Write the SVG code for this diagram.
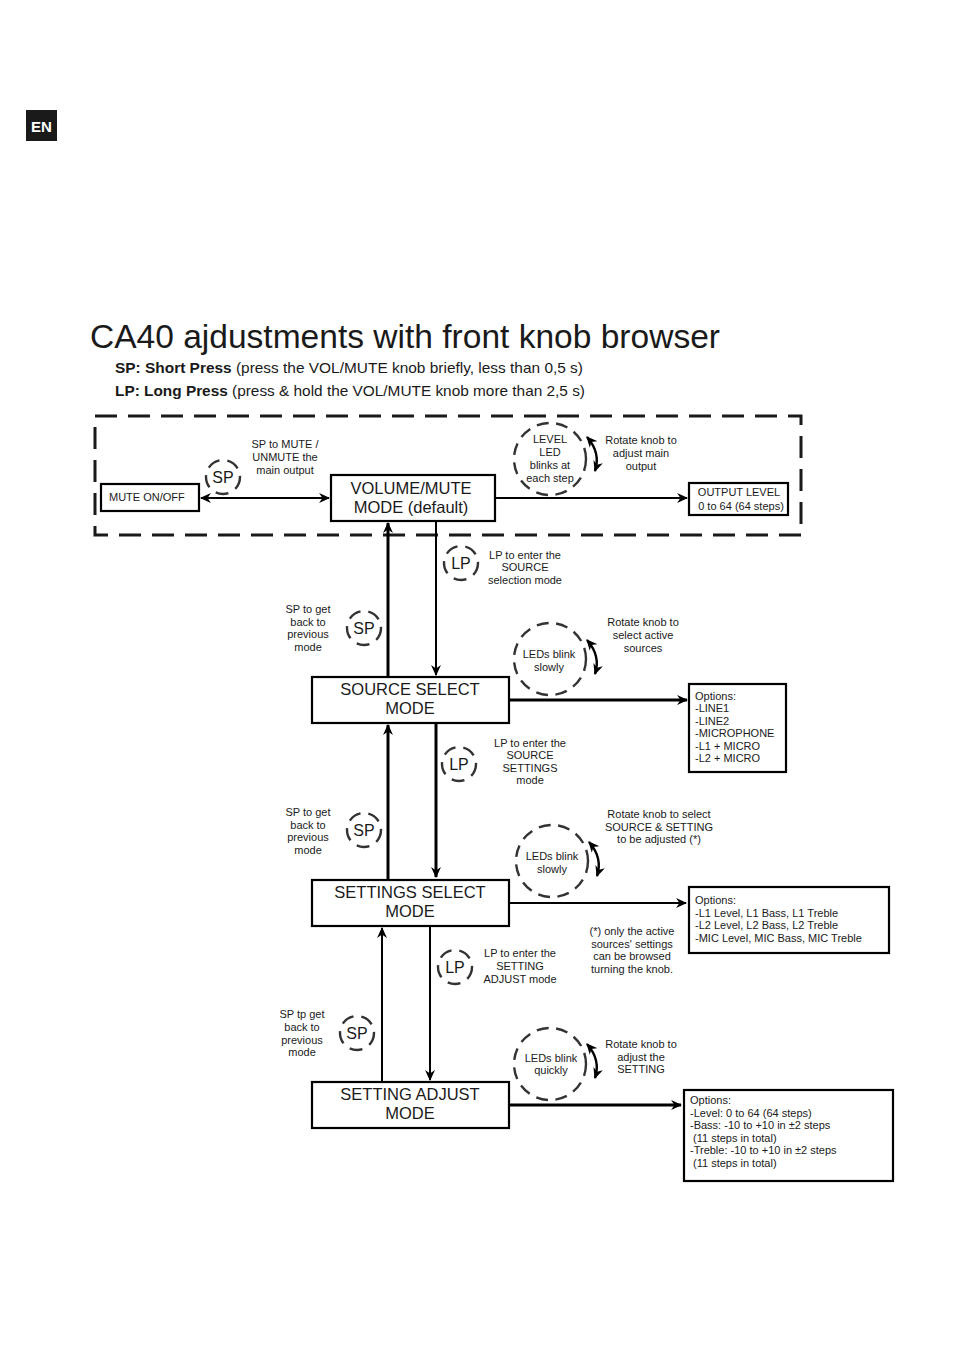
<svg xmlns="http://www.w3.org/2000/svg" width="954" height="1351" viewBox="0 0 954 1351">
<defs>
<marker id="ah" viewBox="0 0 10 10" refX="9" refY="5" markerWidth="11" markerHeight="11" markerUnits="userSpaceOnUse" orient="auto-start-reverse">
<path d="M0,0.5 L10,5 L0,9.5 L3,5 z" fill="#000"/>
</marker>
<style>
text{font-family:"Liberation Sans",Arial,sans-serif;fill:#1a1a1a}
.s{font-size:11px;text-anchor:middle}
.o{font-size:11px}
.m{font-size:16.5px;text-anchor:middle}
.box{fill:#fff;stroke:#000;stroke-width:2.2}
.dc{fill:none;stroke:#333;stroke-width:2.4;stroke-dasharray:13 8}
.dcl{fill:none;stroke:#333;stroke-width:2.4;stroke-dasharray:12 7.5}
.btn{font-size:16px;text-anchor:middle}
.ln{fill:none;stroke:#000;stroke-width:2}
.lt{fill:none;stroke:#000;stroke-width:3}
.rot{fill:none;stroke:#000;stroke-width:2.4}
</style>
</defs>
<rect width="954" height="1351" fill="#fff"/>

<g id="badge">
<rect x="26" y="110" width="31" height="31" fill="#1a1a1a"/>
<text x="41.5" y="132" style="font-size:15px;font-weight:bold;text-anchor:middle;fill:#fff">EN</text>
</g>

<g id="title">
<text x="90" y="348" style="font-size:33px" textLength="630" lengthAdjust="spacingAndGlyphs">CA40 ajdustments with front knob browser</text>
<text x="115" y="373" style="font-size:15px" textLength="468" lengthAdjust="spacingAndGlyphs"><tspan font-weight="bold">SP: Short Press</tspan> (press the VOL/MUTE knob briefly, less than 0,5 s)</text>
<text x="115" y="396" style="font-size:15px" textLength="470" lengthAdjust="spacingAndGlyphs"><tspan font-weight="bold">LP: Long Press</tspan> (press &amp; hold the VOL/MUTE knob more than 2,5 s)</text>
</g>

<g id="default-zone">
<rect x="95" y="416" width="706" height="119" fill="none" stroke="#1a1a1a" stroke-width="3" stroke-dasharray="22 11"/>
</g>

<g id="connectors">
<line class="ln" x1="201" y1="498" x2="329" y2="498" marker-start="url(#ah)" marker-end="url(#ah)"/>
<line class="ln" x1="496" y1="498" x2="687" y2="498" marker-end="url(#ah)"/>
<line class="lt" x1="388" y1="677" x2="388" y2="523" marker-end="url(#ah)"/>
<line class="ln" x1="436" y1="521" x2="436" y2="675" marker-end="url(#ah)"/>
<line class="lt" x1="510" y1="700" x2="687" y2="700" marker-end="url(#ah)"/>
<line class="lt" x1="388" y1="879" x2="388" y2="725" marker-end="url(#ah)"/>
<line class="lt" x1="436" y1="723" x2="436" y2="877" marker-end="url(#ah)"/>
<line class="ln" x1="510" y1="903" x2="686" y2="903" marker-end="url(#ah)"/>
<line class="ln" x1="382" y1="1082" x2="382" y2="928" marker-end="url(#ah)"/>
<line class="ln" x1="430" y1="926" x2="430" y2="1080" marker-end="url(#ah)"/>
<line class="lt" x1="510" y1="1105" x2="681" y2="1105" marker-end="url(#ah)"/>
<path class="rot" d="M587,437 Q601,453 595,471" marker-start="url(#ah)" marker-end="url(#ah)"/>
<path class="rot" d="M587,640 Q601,656 595,674" marker-start="url(#ah)" marker-end="url(#ah)"/>
<path class="rot" d="M589,842 Q603,858 597,876" marker-start="url(#ah)" marker-end="url(#ah)"/>
<path class="rot" d="M587,1044 Q601,1060 595,1078" marker-start="url(#ah)" marker-end="url(#ah)"/>
</g>

<g id="mute">
<rect class="box" x="101" y="484" width="98" height="27"/>
<text class="o" x="109" y="501">MUTE ON/OFF</text>
</g>

<g id="volume">
<rect class="box" x="331" y="475" width="164" height="46"/>
<text class="m" x="411" y="494">VOLUME/MUTE</text>
<text class="m" x="411" y="513">MODE (default)</text>
</g>

<g id="output-level">
<rect class="box" x="689" y="483" width="99" height="32"/>
<text class="s" x="739" y="496">OUTPUT LEVEL</text>
<text class="s" x="741" y="510">0 to 64 (64 steps)</text>
</g>

<g id="sp-mute">
<circle class="dc" cx="223" cy="477" r="17"/>
<text class="btn" x="223" y="483">SP</text>
<text class="s" x="285" y="448">SP to MUTE /</text>
<text class="s" x="285" y="461">UNMUTE the</text>
<text class="s" x="285" y="474">main output</text>
</g>

<g id="level-led">
<circle class="dcl" cx="550" cy="459" r="36"/>
<text class="s" x="550" y="443">LEVEL</text>
<text class="s" x="550" y="456">LED</text>
<text class="s" x="550" y="469">blinks at</text>
<text class="s" x="550" y="482">each step</text>
<text class="s" x="641" y="444">Rotate knob to</text>
<text class="s" x="641" y="457">adjust main</text>
<text class="s" x="641" y="470">output</text>
</g>

<g id="lp-source">
<circle class="dc" cx="461" cy="563" r="17"/>
<text class="btn" x="461" y="569">LP</text>
<text class="s" x="525" y="559">LP to enter the</text>
<text class="s" x="525" y="571">SOURCE</text>
<text class="s" x="525" y="584">selection mode</text>
</g>

<g id="sp-back-1">
<circle class="dc" cx="364" cy="628" r="17"/>
<text class="btn" x="364" y="634">SP</text>
<text class="s" x="308" y="613">SP to get</text>
<text class="s" x="308" y="626">back to</text>
<text class="s" x="308" y="638">previous</text>
<text class="s" x="308" y="651">mode</text>
</g>

<g id="leds-source">
<circle class="dcl" cx="550" cy="659" r="36"/>
<text class="s" x="549" y="658">LEDs blink</text>
<text class="s" x="549" y="671">slowly</text>
<text class="s" x="643" y="626">Rotate knob to</text>
<text class="s" x="643" y="639">select active</text>
<text class="s" x="643" y="652">sources</text>
</g>

<g id="source-select">
<rect class="box" x="312" y="677" width="197" height="46"/>
<text class="m" x="410" y="695">SOURCE SELECT</text>
<text class="m" x="410" y="714">MODE</text>
</g>

<g id="source-options">
<rect class="box" x="689" y="684" width="97" height="88"/>
<text class="o" x="695" y="700">Options:</text>
<text class="o" x="695" y="712">-LINE1</text>
<text class="o" x="695" y="725">-LINE2</text>
<text class="o" x="695" y="737">-MICROPHONE</text>
<text class="o" x="695" y="750">-L1 + MICRO</text>
<text class="o" x="695" y="762">-L2 + MICRO</text>
</g>

<g id="lp-settings">
<circle class="dc" cx="459" cy="764" r="17"/>
<text class="btn" x="459" y="770">LP</text>
<text class="s" x="530" y="747">LP to enter the</text>
<text class="s" x="530" y="759">SOURCE</text>
<text class="s" x="530" y="772">SETTINGS</text>
<text class="s" x="530" y="784">mode</text>
</g>

<g id="sp-back-2">
<circle class="dc" cx="364" cy="830" r="17"/>
<text class="btn" x="364" y="836">SP</text>
<text class="s" x="308" y="816">SP to get</text>
<text class="s" x="308" y="829">back to</text>
<text class="s" x="308" y="841">previous</text>
<text class="s" x="308" y="854">mode</text>
</g>

<g id="leds-settings">
<circle class="dcl" cx="552" cy="861" r="36"/>
<text class="s" x="552" y="860">LEDs blink</text>
<text class="s" x="552" y="873">slowly</text>
<text class="s" x="659" y="818">Rotate knob to select</text>
<text class="s" x="659" y="831">SOURCE &amp; SETTING</text>
<text class="s" x="659" y="843">to be adjusted (*)</text>
</g>

<g id="settings-select">
<rect class="box" x="312" y="880" width="197" height="46"/>
<text class="m" x="410" y="898">SETTINGS SELECT</text>
<text class="m" x="410" y="917">MODE</text>
</g>

<g id="settings-options">
<rect class="box" x="689" y="887" width="200" height="66"/>
<text class="o" x="695" y="904">Options:</text>
<text class="o" x="695" y="917">-L1 Level, L1 Bass, L1 Treble</text>
<text class="o" x="695" y="929">-L2 Level, L2 Bass, L2 Treble</text>
<text class="o" x="695" y="942">-MIC Level, MIC Bass, MIC Treble</text>
</g>

<g id="note">
<text class="s" x="632" y="935">(*) only the active</text>
<text class="s" x="632" y="948">sources' settings</text>
<text class="s" x="632" y="960">can be browsed</text>
<text class="s" x="632" y="973">turning the knob.</text>
</g>

<g id="lp-adjust">
<circle class="dc" cx="455" cy="967" r="17"/>
<text class="btn" x="455" y="973">LP</text>
<text class="s" x="520" y="957">LP to enter the</text>
<text class="s" x="520" y="970">SETTING</text>
<text class="s" x="520" y="983">ADJUST mode</text>
</g>

<g id="sp-back-3">
<circle class="dc" cx="357" cy="1033" r="17"/>
<text class="btn" x="357" y="1039">SP</text>
<text class="s" x="302" y="1018">SP tp get</text>
<text class="s" x="302" y="1031">back to</text>
<text class="s" x="302" y="1044">previous</text>
<text class="s" x="302" y="1056">mode</text>
</g>

<g id="leds-adjust">
<circle class="dcl" cx="550" cy="1064" r="36"/>
<text class="s" x="551" y="1062">LEDs blink</text>
<text class="s" x="551" y="1074">quickly</text>
<text class="s" x="641" y="1048">Rotate knob to</text>
<text class="s" x="641" y="1061">adjust the</text>
<text class="s" x="641" y="1073">SETTING</text>
</g>

<g id="setting-adjust">
<rect class="box" x="312" y="1082" width="197" height="46"/>
<text class="m" x="410" y="1100">SETTING ADJUST</text>
<text class="m" x="410" y="1119">MODE</text>
</g>

<g id="adjust-options">
<rect class="box" x="684" y="1090" width="209" height="91"/>
<text class="o" x="690" y="1104">Options:</text>
<text class="o" x="690" y="1117">-Level: 0 to 64 (64 steps)</text>
<text class="o" x="690" y="1129">-Bass: -10 to +10 in ±2 steps</text>
<text class="o" x="693" y="1142">(11 steps in total)</text>
<text class="o" x="690" y="1154">-Treble: -10 to +10 in ±2 steps</text>
<text class="o" x="693" y="1167">(11 steps in total)</text>
</g>
</svg>
